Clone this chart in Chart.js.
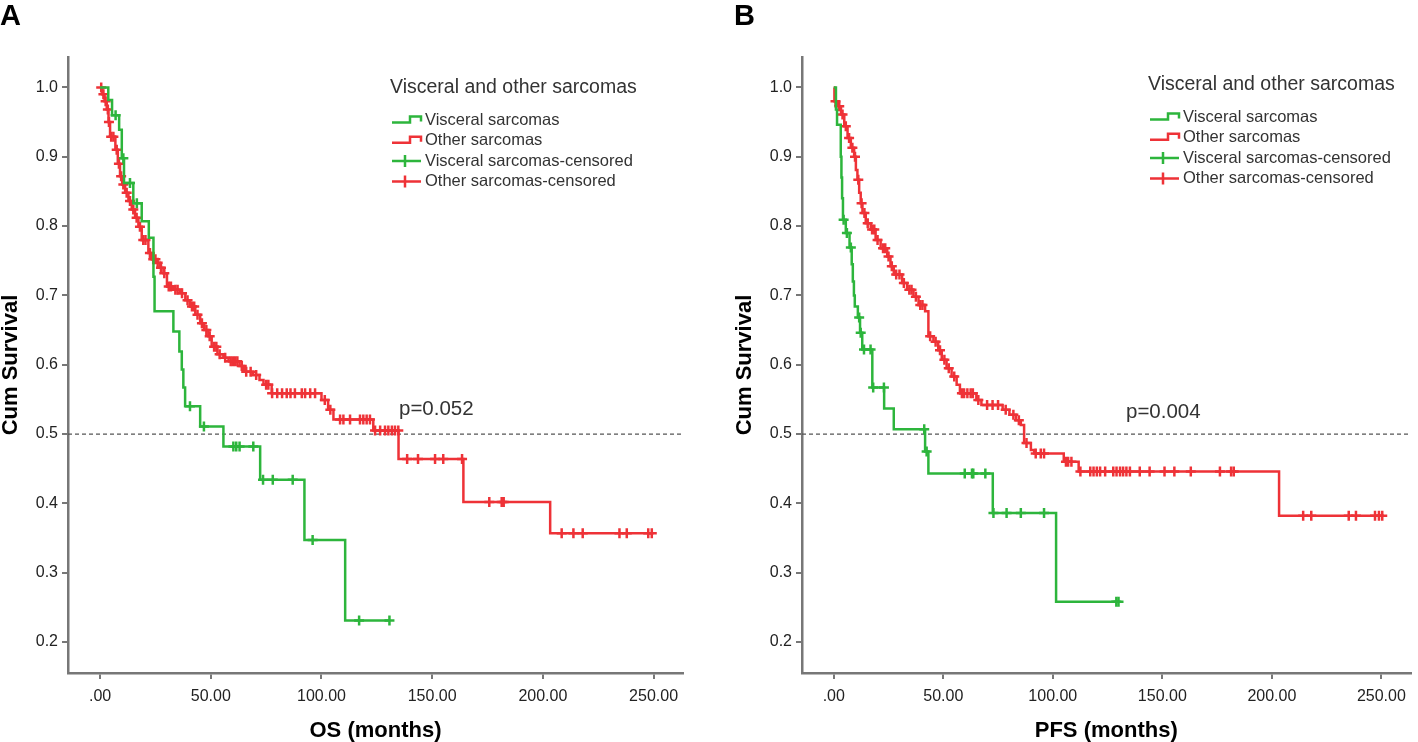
<!DOCTYPE html>
<html lang="en">
<head>
    <meta charset="UTF-8">
    <title>Visceral and other sarcomas - OS / PFS</title>
    <script src="https://cdn.jsdelivr.net/npm/chart.js"></script>
    <style>
        body { margin: 0; background: #fff; }
        .panel { position: absolute; top: 0; height: 742px; }
        #panelA { left: 0; width: 700px; }
        #panelB { left: 734px; width: 684px; }
    </style>
</head>
<body>
<div class="panel" id="panelA"><canvas id="chartA"></canvas></div>
<div class="panel" id="panelB"><canvas id="chartB"></canvas></div>
<script>
    // ---- data (months, cumulative survival) ----
    var xTicks = [0, 50, 100, 150, 200, 250];
    var yTicks = [0.2, 0.3, 0.4, 0.5, 0.6, 0.7, 0.8, 0.9, 1.0];
    var medianLine = 0.5;

    var legendTitle = "Visceral and other sarcomas";
    var legendLabels = ["Visceral sarcomas", "Other sarcomas", "Visceral sarcomas-censored", "Other sarcomas-censored"];

    // A: OS, visceral
    var osVisT = [3.7, 5.4, 8.6, 9.8, 10.8, 15, 18.8, 22, 24.1, 24.6, 33.1, 35.8, 36.9, 37.6, 38.4, 45.2, 55.7, 72.3, 92.3, 110.7];
    var osVisS = [0.982, 0.96, 0.939, 0.898, 0.862, 0.833, 0.807, 0.783, 0.727, 0.677, 0.648, 0.619, 0.593, 0.567, 0.540, 0.511, 0.482, 0.434, 0.347, 0.231];
    var osVisEnd = 130.7;
    var osVisCens = [7, 10.5, 13.5, 16.6, 40.6, 46.9, 60.2, 61.5, 63, 69.2, 73.6, 78, 87, 96, 117, 130.7];

    // A: OS, other
    var osOthT = [1, 2, 3, 3.8, 4.5, 6.9, 8, 9, 10, 11.3, 12.8, 14.3, 15.8, 17.3, 18.8, 21.8, 23.5, 25.6, 27, 28.6, 30.2, 33, 36.1, 38.5, 40.6, 43, 45.2, 47, 48.9, 50.4, 53, 55.7, 58, 63, 65, 69, 72, 73.8, 77.5, 100, 103, 105.4, 123.4, 134.8, 164.1, 203.3];
    var osOthS = [0.99, 0.98, 0.968, 0.95, 0.929, 0.910, 0.89, 0.872, 0.86, 0.848, 0.836, 0.824, 0.812, 0.799, 0.780, 0.761, 0.752, 0.747, 0.74, 0.732, 0.713, 0.708, 0.703, 0.693, 0.684, 0.672, 0.660, 0.650, 0.641, 0.626, 0.615, 0.610, 0.605, 0.598, 0.590, 0.585, 0.578, 0.571, 0.559, 0.549, 0.535, 0.521, 0.505, 0.464, 0.402, 0.357];
    var osOthEnd = 249.9;
    var osOthCens = [0.5, 1.5, 2.5, 3.5, 4, 5, 6, 7.5, 8.5, 9.5, 10.5, 12, 13.5, 15, 16.5, 18, 19.5, 20.5, 22.5, 24, 25, 26, 27.5, 29, 31, 32, 34, 35, 37, 39.5, 41.5, 42.5, 44, 46, 48, 49.5, 51.5, 52.5, 54, 56.5, 59, 60, 61, 62, 64, 66, 68, 70.5, 75, 76, 77.7, 80, 82.2, 84.3, 86, 88, 91.1, 92.6, 94.9, 97.1, 101.5, 104, 108.4, 109.9, 112.9, 117.4, 118.9, 120.4, 121.9, 124.2, 126.5, 128.7, 130.2, 131.8, 133.2, 134.7, 138.7, 143.6, 151.3, 155, 163.5, 175.8, 181.4, 182.3, 208.5, 213.8, 218, 234.6, 237.9, 247.6, 249.2];

    // B: PFS, visceral
    var pfsVisT = [1, 1.5, 3.2, 3.5, 3.8, 4.2, 5.5, 7.2, 8.2, 8.7, 9.2, 9.6, 11, 12, 13, 17.6, 23, 27.4, 41.7, 43.2, 72.6, 101.5];
    var pfsVisS = [0.968, 0.946, 0.90, 0.87, 0.84, 0.809, 0.79, 0.769, 0.745, 0.72, 0.70, 0.684, 0.668, 0.646, 0.622, 0.567, 0.537, 0.507, 0.475, 0.443, 0.386, 0.258];
    var pfsVisEnd = 130;
    var pfsVisCens = [4.5, 6, 7.8, 11.6, 12.3, 13.8, 16.8, 18, 22.9, 41.3, 42.4, 59.8, 63.1, 63.7, 69.2, 72.9, 78.9, 85.4, 96, 129, 130];

    // B: PFS, other
    var pfsOthT = [0.3, 1.8, 3.3, 4.8, 6.3, 7.8, 9.3, 10.1, 10.8, 11.6, 12.3, 13.1, 14.6, 16.9, 19.1, 21.4, 24.4, 25.9, 27.4, 31.2, 33.5, 36.4, 38.7, 41.7, 43.2, 45.5, 47.7, 49.3, 51.5, 53.8, 56.1, 57.6, 65.1, 67.4, 77.1, 80.2, 83.2, 85.4, 86.9, 90, 91.5, 105, 111.8, 203.3];
    var pfsOthS = [0.980, 0.973, 0.961, 0.944, 0.927, 0.913, 0.900, 0.881, 0.867, 0.848, 0.833, 0.819, 0.804, 0.795, 0.780, 0.768, 0.756, 0.742, 0.730, 0.718, 0.708, 0.698, 0.686, 0.677, 0.641, 0.633, 0.621, 0.607, 0.595, 0.583, 0.571, 0.559, 0.549, 0.542, 0.535, 0.528, 0.520, 0.513, 0.487, 0.477, 0.472, 0.460, 0.446, 0.382];
    var pfsOthEnd = 250.4;
    var pfsOthCens = [0.8, 2.5, 4, 5.5, 7, 8.5, 9.7, 11.2, 12.7, 14, 15.5, 17.5, 18.5, 20, 22.5, 23.5, 25, 26.5, 28.5, 30, 32, 34.5, 35.5, 37.5, 39.5, 40.5, 44, 46.5, 48.5, 50.5, 52.5, 55, 58.5, 59.5, 61, 62.5, 63.5, 66, 70, 72.5, 75, 78.5, 82, 84.5, 88, 92.2, 94.5, 96, 106, 107, 108.5, 112.6, 117.1, 118.6, 120.1, 121.6, 123.9, 127.6, 129.1, 130.7, 132.1, 133.6, 135.2, 139.7, 144.2, 151, 155.5, 163, 176.3, 181.4, 182.6, 214.3, 218, 235.1, 238.4, 247.1, 248.9, 250.4];

    var green = "#2db53c";
    var red = "#ee3237";
    var fontFam = "'Liberation Sans', Arial, sans-serif";

    // step curve points: start at 1.0, drop at each event time
    function stepPoints(times, surv, end) {
        var pts = [{x: 0, y: 1}];
        for (var i = 0; i < times.length; i++) pts.push({x: times[i], y: surv[i]});
        pts.push({x: end, y: surv[surv.length - 1]});
        return pts;
    }
    function survAt(times, surv, t) {
        var s = 1;
        for (var i = 0; i < times.length; i++) { if (times[i] <= t) s = surv[i]; }
        return s;
    }
    function censPoints(times, surv, cens) {
        return cens.map(t => ({x: t, y: survAt(times, surv, t)}));
    }

    var kmExtras = {
        id: "kmExtras",
        beforeDatasetsDraw(chart, args, o) {
            var ctx = chart.ctx, area = chart.chartArea;
            var y = chart.scales.y.getPixelForValue(medianLine);
            ctx.save();
            ctx.strokeStyle = "#555";
            ctx.lineWidth = 1.3;
            ctx.setLineDash([4, 3]);
            ctx.beginPath();
            ctx.moveTo(area.left, y);
            ctx.lineTo(area.right, y);
            ctx.stroke();
            ctx.restore();
        },
        afterDraw(chart, args, o) {
            var ctx = chart.ctx;
            ctx.save();
            ctx.fillStyle = "#000";
            ctx.font = "bold 29px " + fontFam;
            ctx.textBaseline = "alphabetic";
            ctx.fillText(o.letter, 0, 25);

            ctx.fillStyle = "#333";
            ctx.font = "20.5px " + fontFam;
            ctx.textBaseline = "middle";
            ctx.fillText(o.pText, o.pX, o.pY);

            // legend
            var lx = o.legendX, ly = o.legendY;
            ctx.font = "19.5px " + fontFam;
            ctx.fillText(legendTitle, lx, ly);
            var colors = [green, red, green, red];
            ctx.font = "16.5px " + fontFam;
            for (var i = 0; i < legendLabels.length; i++) {
                var cy = ly + 32.5 + i * 20.3;
                var sx = lx + 2;
                ctx.strokeStyle = colors[i];
                ctx.lineWidth = 2.5;
                ctx.beginPath();
                if (i < 2) {
                    ctx.moveTo(sx, cy + 2);
                    ctx.lineTo(sx + 18, cy + 2);
                    ctx.lineTo(sx + 18, cy - 4);
                    ctx.lineTo(sx + 29, cy - 4);
                    ctx.lineTo(sx + 29, cy + 1);
                } else {
                    ctx.moveTo(sx, cy);
                    ctx.lineTo(sx + 29, cy);
                    ctx.moveTo(sx + 13, cy - 6);
                    ctx.lineTo(sx + 13, cy + 6);
                }
                ctx.stroke();
                ctx.fillStyle = "#333";
                ctx.fillText(legendLabels[i], lx + 35, cy);
            }
            ctx.restore();
        }
    };

    function makeChart(id, title, curves, extras, rightPad) {
        var ds = [];
        curves.forEach(c => {
            ds.push({
                label: c.name,
                data: stepPoints(c.t, c.s, c.end),
                showLine: true,
                stepped: "before",
                borderColor: c.color,
                borderWidth: 2.5,
                pointRadius: 0
            });
        });
        curves.forEach(c => {
            ds.push({
                label: c.name + "-censored",
                data: censPoints(c.t, c.s, c.cens),
                showLine: false,
                pointStyle: "cross",
                pointRadius: 5,
                borderColor: c.color,
                borderWidth: 2.5
            });
        });
        return new Chart(document.getElementById(id), {
            type: "scatter",
            data: {datasets: ds},
            options: {
                responsive: true,
                maintainAspectRatio: false,
                animation: false,
                layout: {padding: {top: 57, right: rightPad, left: 0, bottom: 0}},
                plugins: {
                    legend: {display: false},
                    tooltip: {enabled: false},
                    kmExtras: extras
                },
                scales: {
                    x: {
                        type: "linear",
                        min: -14.5,
                        max: 263.3,
                        afterBuildTicks: axis => { axis.ticks = xTicks.map(v => ({value: v})); },
                        afterFit: scale => { scale.height = 69; },
                        ticks: {
                            color: "#222",
                            padding: 8,
                            font: {family: fontFam, size: 16},
                            callback: v => v === 0 ? ".00" : v.toFixed(2)
                        },
                        grid: {drawOnChartArea: false, drawTicks: true, tickLength: 6, color: "#777", lineWidth: 2},
                        border: {display: true, color: "#777", width: 2.5},
                        title: {
                            display: true,
                            text: title,
                            color: "#000",
                            padding: 0,
                            font: {family: fontFam, size: 22, weight: "bold", lineHeight: 1}
                        }
                    },
                    y: {
                        type: "linear",
                        min: 0.1553,
                        max: 1.0439,
                        afterBuildTicks: axis => { axis.ticks = yTicks.map(v => ({value: v})); },
                        afterFit: scale => { scale.width = 68; },
                        ticks: {
                            color: "#222",
                            padding: 4,
                            font: {family: fontFam, size: 16},
                            callback: v => v.toFixed(1)
                        },
                        grid: {drawOnChartArea: false, drawTicks: true, tickLength: 6, color: "#777", lineWidth: 2},
                        border: {display: true, color: "#777", width: 2.5},
                        title: {
                            display: true,
                            text: "Cum Survival",
                            color: "#000",
                            padding: 0,
                            font: {family: fontFam, size: 22, weight: "bold", lineHeight: 1}
                        }
                    }
                }
            },
            plugins: [kmExtras]
        });
    }

    makeChart("chartA", "OS (months)", [
        {name: "Visceral sarcomas", t: osVisT, s: osVisS, end: osVisEnd, cens: osVisCens, color: green},
        {name: "Other sarcomas", t: osOthT, s: osOthS, end: osOthEnd, cens: osOthCens, color: red}
    ], {letter: "A", pText: "p=0.052", pX: 399, pY: 409, legendX: 390, legendY: 88}, 17);

    makeChart("chartB", "PFS (months)", [
        {name: "Visceral sarcomas", t: pfsVisT, s: pfsVisS, end: pfsVisEnd, cens: pfsVisCens, color: green},
        {name: "Other sarcomas", t: pfsOthT, s: pfsOthS, end: pfsOthEnd, cens: pfsOthCens, color: red}
    ], {letter: "B", pText: "p=0.004", pX: 392, pY: 412, legendX: 414, legendY: 85}, 2);
</script>
</body>
</html>
